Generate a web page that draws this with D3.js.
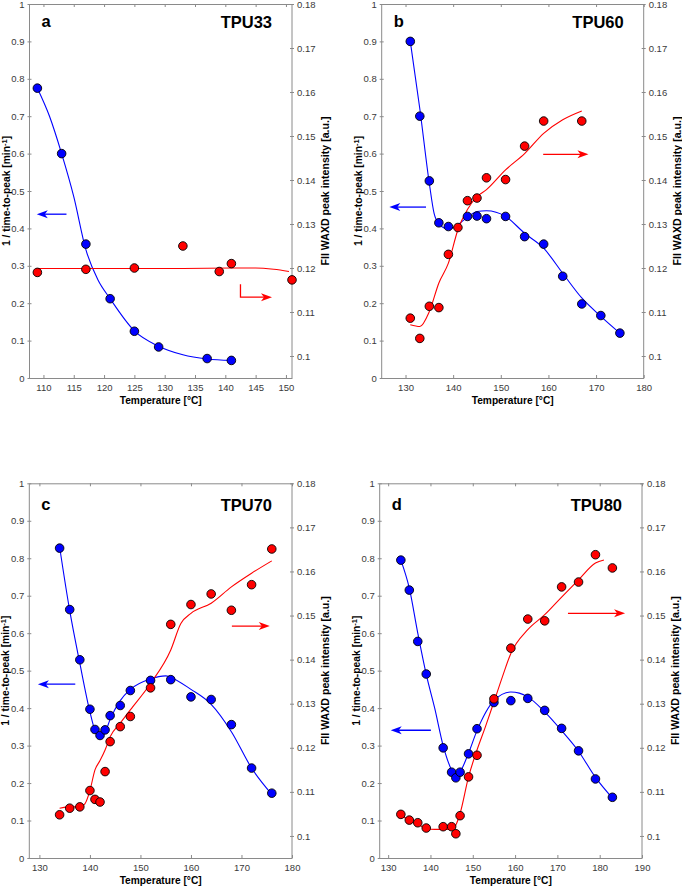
<!DOCTYPE html>
<html>
<head>
<meta charset="utf-8">
<script src="https://cdn.jsdelivr.net/npm/d3@7"></script>
<style>
  body { margin: 0; background: #fff; }
  svg { font-family: "Liberation Sans", Arial, Helvetica, sans-serif; }
</style>
</head>
<body>
<div id="chart"></div>
<script>
// four panels: crystallization rate (left axis, blue) and FII WAXD intensity (right axis, red)
var width = 682, height = 887;

var panelLetters = ["a", "b", "c", "d"];
var panelNames = ["TPU33", "TPU60", "TPU70", "TPU80"];
var leftTicks = [0, 0.1, 0.2, 0.3, 0.4, 0.5, 0.6, 0.7, 0.8, 0.9, 1];
var rightTicks = [0.1, 0.11, 0.12, 0.13, 0.14, 0.15, 0.16, 0.17, 0.18];
var xTicksA = [110, 115, 120, 125, 130, 135, 140, 145, 150];
var xTicksB = [130, 140, 150, 160, 170, 180];
var xTicksC = [130, 140, 150, 160, 170, 180];
var xTicksD = [130, 140, 150, 160, 170, 180, 190];

// TPU33
var blueTA = [109, 113, 117, 121, 125, 129, 137, 141];
var rateA = [0.775, 0.6, 0.358, 0.212, 0.125, 0.083, 0.052, 0.047];
var redTA = [109, 117, 125, 133, 139, 141, 151];
var intA = [0.119, 0.1197, 0.120, 0.125, 0.1192, 0.121, 0.1173];
var fitBlueTA = [109, 111, 113, 115, 117, 119, 121, 125, 129, 133, 137, 141];
var fitBlueA = [0.775, 0.70, 0.600, 0.485, 0.343, 0.262, 0.212, 0.126, 0.085, 0.062, 0.051, 0.047];
var fitRedTA = [109, 117, 125, 133, 141, 145, 148, 150.5];
var fitRedA = [0.1199, 0.1199, 0.1199, 0.1199, 0.1200, 0.1200, 0.1197, 0.1192];

// TPU60
var blueTB = [131, 133, 135, 137, 139, 143, 145, 147, 151, 155, 159, 163, 167, 171, 175];
var rateB = [0.9, 0.70, 0.527, 0.415, 0.405, 0.432, 0.433, 0.426, 0.432, 0.378, 0.358, 0.272, 0.198, 0.167, 0.12];
var redTB = [131, 133, 135, 137, 139, 141, 143, 145, 147, 151, 155, 159, 167];
var intB = [0.1086, 0.104, 0.1113, 0.111, 0.1231, 0.1292, 0.1353, 0.1359, 0.1405, 0.1401, 0.1477, 0.1534, 0.1534];
var fitBlueTB = [131, 133, 135, 136, 137, 139, 141, 143, 145, 147, 151, 155, 159, 163, 167, 171, 175];
var fitBlueB = [0.9, 0.72, 0.52, 0.44, 0.412, 0.398, 0.41, 0.43, 0.445, 0.447, 0.432, 0.387, 0.347, 0.28, 0.214, 0.165, 0.12];
var fitRedTB = [131, 133, 135, 137, 139, 141, 143, 145, 147, 151, 155, 159, 163, 167];
var fitRedB = [0.1071, 0.1067, 0.1101, 0.1166, 0.1211, 0.1287, 0.1333, 0.1362, 0.1378, 0.1423, 0.146, 0.1506, 0.1537, 0.1557];

// TPU70
var blueTC = [134, 136, 138, 140, 141, 142, 143, 144, 146, 148, 152, 156, 160, 164, 168, 172, 176];
var rateC = [0.827, 0.663, 0.529, 0.397, 0.343, 0.327, 0.342, 0.38, 0.407, 0.447, 0.474, 0.476, 0.43, 0.423, 0.356, 0.24, 0.173];
var redTC = [134, 136, 138, 140, 141, 142, 143, 144, 146, 148, 152, 156, 160, 164, 168, 172, 176];
var intC = [0.1048, 0.1063, 0.1066, 0.1103, 0.1083, 0.1077, 0.1146, 0.1214, 0.1248, 0.1271, 0.1336, 0.148, 0.1525, 0.1549, 0.1512, 0.157, 0.1651];
var fitBlueTC = [134, 136, 138, 140, 141, 142, 143, 144, 146, 148, 152, 155, 156, 160, 164, 168, 172, 176];
var fitBlueC = [0.83, 0.66, 0.52, 0.39, 0.34, 0.322, 0.335, 0.37, 0.42, 0.45, 0.478, 0.486, 0.482, 0.45, 0.41, 0.337, 0.24, 0.17];
var fitRedTC = [134, 136, 138, 139, 140, 141, 142, 143, 144, 146, 148, 152, 156, 158, 160, 164, 168, 172, 176];
var fitRedC = [0.1063, 0.1066, 0.1066, 0.1073, 0.1103, 0.115, 0.1171, 0.1195, 0.1225, 0.1256, 0.1286, 0.1346, 0.1422, 0.1482, 0.1505, 0.1528, 0.1565, 0.1596, 0.1624];

// TPU80
var blueTD = [133, 135, 137, 139, 143, 145, 146, 147, 149, 151, 155, 159, 163, 167, 171, 175, 179, 183];
var rateD = [0.795, 0.715, 0.578, 0.491, 0.294, 0.229, 0.214, 0.229, 0.278, 0.345, 0.415, 0.42, 0.426, 0.394, 0.346, 0.286, 0.211, 0.162];
var redTD = [133, 135, 137, 139, 143, 145, 146, 147, 149, 151, 155, 159, 163, 167, 171, 175, 179, 183];
var intD = [0.1049, 0.1036, 0.103, 0.1018, 0.1021, 0.1021, 0.1005, 0.1046, 0.1134, 0.1183, 0.1311, 0.1426, 0.1492, 0.1488, 0.1565, 0.1576, 0.1638, 0.1608];
var fitBlueTD = [133, 135, 137, 139, 141, 143, 145, 146, 147, 149, 151, 155, 159, 161, 163, 167, 171, 175, 179, 183];
var fitBlueD = [0.795, 0.72, 0.60, 0.49, 0.40, 0.30, 0.235, 0.22, 0.23, 0.28, 0.34, 0.42, 0.443, 0.44, 0.43, 0.39, 0.34, 0.285, 0.215, 0.16];
var fitRedTD = [133, 135, 137, 139, 141, 143, 145, 146, 147, 149, 151, 153, 155, 157, 159, 163, 167, 171, 175, 179, 181];
var fitRedD = [0.1048, 0.1035, 0.1027, 0.1017, 0.1015, 0.1015, 0.1015, 0.1025, 0.1051, 0.1134, 0.1195, 0.1248, 0.1304, 0.1361, 0.1414, 0.1468, 0.1502, 0.1542, 0.1581, 0.1619, 0.1626];

// arrows: [x start, x end, y on left axis]
var blueArrows = [[113.8, 108.9, 0.438], [134.3, 126.6, 0.457], [137.1, 129.7, 0.464], [140.1, 130.6, 0.341]];
var redArrows = [[142.5, 147.7, 0.216], [158.9, 168.4, 0.598], [168.1, 175.6, 0.619], [172.5, 186, 0.653]];

var panels = [
  { x0: 29.5, x1: 292, y0: 4, y1: 378, dom: [107.7, 151], ticks: xTicksA,
    bT: blueTA, bV: rateA, rT: redTA, rV: intA, fbT: fitBlueTA, fbV: fitBlueA, frT: fitRedTA, frV: fitRedA },
  { x0: 381.7, x1: 643.7, y0: 4, y1: 378, dom: [125, 180], ticks: xTicksB,
    bT: blueTB, bV: rateB, rT: redTB, rV: intB, fbT: fitBlueTB, fbV: fitBlueB, frT: fitRedTB, frV: fitRedB },
  { x0: 29.3, x1: 292, y0: 483.3, y1: 858, dom: [128, 180], ticks: xTicksC,
    bT: blueTC, bV: rateC, rT: redTC, rV: intC, fbT: fitBlueTC, fbV: fitBlueC, frT: fitRedTC, frV: fitRedC },
  { x0: 379.7, x1: 642, y0: 483.3, y1: 858, dom: [128, 190], ticks: xTicksD,
    bT: blueTD, bV: rateD, rT: redTD, rV: intD, fbT: fitBlueTD, fbV: fitBlueD, frT: fitRedTD, frV: fitRedD }
];

var axisGray = "#8a8a8a", labelGray = "#3a3a3a";

var svg = d3.select("#chart").append("svg")
    .attr("width", width).attr("height", height);

function arrowHead(g, x, y, dir, color) {
  // filled head with a notch, dir = 1 right, -1 left
  var L = 11, w = 4, n = 3;
  var p = [[x, y], [x - dir * L, y - w], [x - dir * (L - n), y], [x - dir * L, y + w]];
  g.append("path").attr("d", "M" + p.join("L") + "Z").attr("fill", color);
}

panels.forEach(function(p, i) {
  var x = d3.scaleLinear().domain(p.dom).range([p.x0, p.x1]);
  var yL = d3.scaleLinear().domain([0, 1]).range([p.y1, p.y0]);
  var yR = d3.scaleLinear().domain([0.095, 0.18]).range([p.y1, p.y0]);
  var g = svg.append("g");

  // axes
  var bottom = g.append("g").attr("transform", "translate(0," + p.y1 + ")")
      .call(d3.axisBottom(x).tickValues(p.ticks).tickSizeInner(-3).tickSizeOuter(0).tickPadding(6));
  var top = g.append("g").attr("transform", "translate(0," + p.y0 + ")")
      .call(d3.axisTop(x).tickValues(p.ticks).tickSizeInner(-3).tickSizeOuter(0).tickFormat(""));
  var left = g.append("g").attr("transform", "translate(" + p.x0 + ",0)")
      .call(d3.axisLeft(yL).tickValues(leftTicks).tickSizeOuter(0).tickSizeInner(2).tickPadding(3)
        .tickFormat(function(d) { return d3.format("~g")(d); }));
  var right = g.append("g").attr("transform", "translate(" + p.x1 + ",0)")
      .call(d3.axisRight(yR).tickValues(rightTicks).tickSizeOuter(0).tickSizeInner(2).tickPadding(3)
        .tickFormat(function(d) { return d3.format("~g")(d); }));
  left.selectAll(".tick line").attr("x1", 2);
  right.selectAll(".tick line").attr("x1", -2);
  right.select(".domain").attr("d", "M0," + p.y1 + "V" + p.y0);
  left.select(".domain").attr("d", "M0," + p.y1 + "V" + p.y0);
  [bottom, top, left, right].forEach(function(a) {
    a.selectAll("path, line").attr("stroke", axisGray);
    a.selectAll("text").attr("fill", labelGray).style("font-size", "9.5px")
      .style("font-family", "'Liberation Sans', Arial, sans-serif");
  });

  // fit curves
  var curve = d3.curveMonotoneX;
  var lineL = d3.line().curve(curve).x(function(d) { return x(d[0]); }).y(function(d) { return yL(d[1]); });
  var lineR = d3.line().curve(curve).x(function(d) { return x(d[0]); }).y(function(d) { return yR(d[1]); });
  g.append("path").datum(d3.zip(p.fbT, p.fbV)).attr("d", lineL)
    .attr("fill", "none").attr("stroke", "#0000ff").attr("stroke-width", 1.1);
  g.append("path").datum(d3.zip(p.frT, p.frV)).attr("d", lineR)
    .attr("fill", "none").attr("stroke", "#ff0000").attr("stroke-width", 1.1);

  // markers
  g.selectAll(".blue").data(d3.zip(p.bT, p.bV)).enter().append("circle")
    .attr("cx", function(d) { return x(d[0]); }).attr("cy", function(d) { return yL(d[1]); })
    .attr("r", 4.3).attr("fill", "#0000ff").attr("stroke", "#000").attr("stroke-width", 0.9);
  g.selectAll(".red").data(d3.zip(p.rT, p.rV)).enter().append("circle")
    .attr("cx", function(d) { return x(d[0]); }).attr("cy", function(d) { return yR(d[1]); })
    .attr("r", 4.3).attr("fill", "#ff0000").attr("stroke", "#000").attr("stroke-width", 0.9);

  // arrows
  var ba = blueArrows[i], ra = redArrows[i];
  g.append("line").attr("x1", x(ba[0])).attr("x2", x(ba[1]) + 6)
    .attr("y1", yL(ba[2])).attr("y2", yL(ba[2])).attr("stroke", "#0000ff").attr("stroke-width", 1.3);
  arrowHead(g, x(ba[1]), yL(ba[2]), -1, "#0000ff");
  if (i === 0) {
    g.append("path").attr("d", "M" + x(ra[0]) + "," + yL(0.251) + "V" + yL(ra[2]) + "H" + (x(ra[1]) - 6))
      .attr("fill", "none").attr("stroke", "#ff0000").attr("stroke-width", 1.3);
  } else {
    g.append("line").attr("x1", x(ra[0])).attr("x2", x(ra[1]) - 6)
      .attr("y1", yL(ra[2])).attr("y2", yL(ra[2])).attr("stroke", "#ff0000").attr("stroke-width", 1.3);
  }
  arrowHead(g, x(ra[1]), yL(ra[2]), 1, "#ff0000");

  // panel letter and sample name
  var dy = i < 2 ? 23 : 27;
  g.append("text").attr("x", p.x0 + 12).attr("y", p.y0 + dy)
    .style("font-size", "16.5px").style("font-weight", "bold").text(panelLetters[i]);
  g.append("text").attr("x", p.x1 - 20).attr("y", p.y0 + dy + 1).attr("text-anchor", "end")
    .style("font-size", "16.5px").style("font-weight", "bold").text(panelNames[i]);

  // axis titles
  var cy = (p.y0 + p.y1) / 2;
  g.append("text").attr("x", (p.x0 + p.x1) / 2).attr("y", p.y1 + 25.5).attr("text-anchor", "middle")
    .style("font-size", "10.2px").style("font-weight", "bold").text("Temperature [°C]");
  var lt = g.append("text").attr("transform", "translate(" + (p.x0 - 20) + "," + cy + ") rotate(-90)")
    .attr("text-anchor", "middle").style("font-size", "10.3px").style("font-weight", "bold");
  lt.append("tspan").text("1 / time-to-peak [min");
  lt.append("tspan").attr("dy", -3).style("font-size", "7.5px").text("-1");
  lt.append("tspan").attr("dy", 3).text("]");
  g.append("text").attr("transform", "translate(" + (p.x1 + 37) + "," + cy + ") rotate(-90)")
    .attr("text-anchor", "middle").style("font-size", "10.6px").style("font-weight", "bold")
    .text("FII WAXD peak intensity [a.u.]");
});
</script>
</body>
</html>
